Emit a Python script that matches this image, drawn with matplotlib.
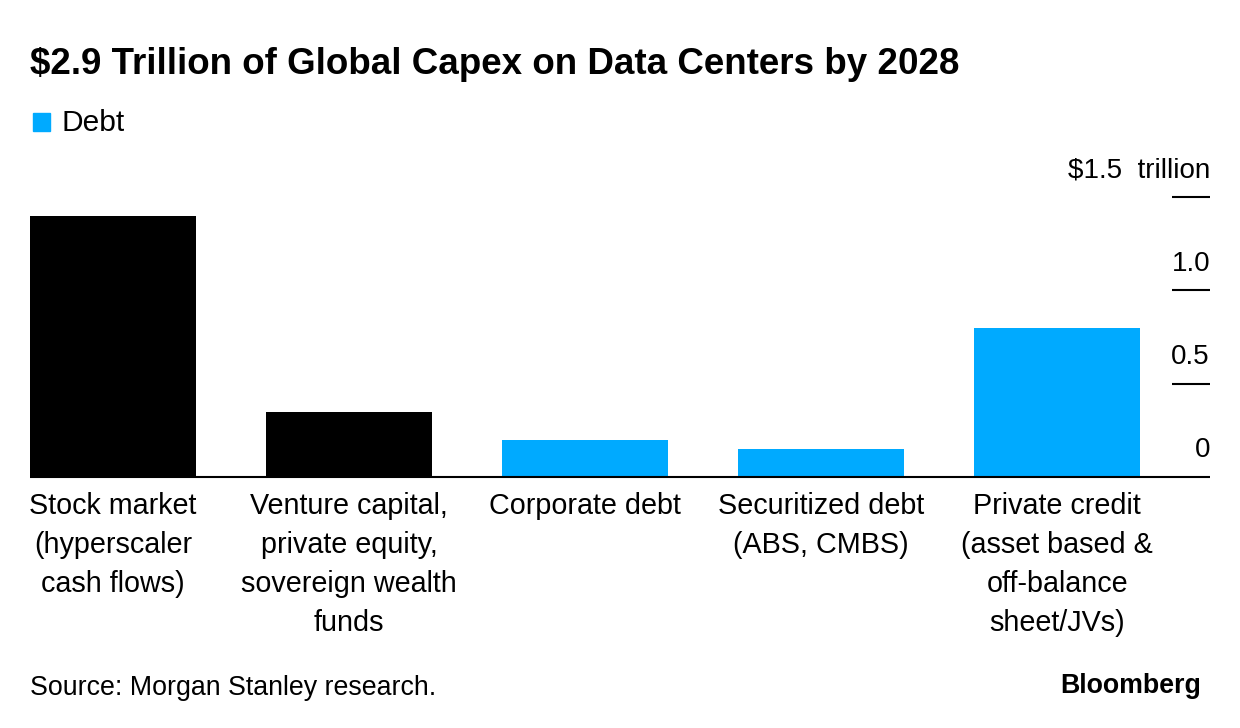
import matplotlib
matplotlib.use("Agg")
import matplotlib.pyplot as plt
from matplotlib.patches import Rectangle

plt.rcParams["font.family"] = ["Liberation Sans", "DejaVu Sans"]

# ── Data (trillion USD) ──────────────────────────────────────────────────────
categories = [
    "Stock market\n(hyperscaler\ncash flows)",
    "Venture capital,\nprivate equity,\nsovereign wealth\nfunds",
    "Corporate debt",
    "Securitized debt\n(ABS, CMBS)",
    "Private credit\n(asset based &\noff-balance\nsheet/JVs)",
]
values = [1.40, 0.35, 0.20, 0.15, 0.80]
is_debt = [False, False, True, True, True]
y_ticks = [0, 0.5, 1.0, 1.5]
y_tick_labels = ["0", "0.5", "1.0", "$1.5  trillion"]

BLUE = "#00AAFF"
BLACK = "#000000"

W, H = 1240, 728
fig = plt.figure(figsize=(W / 100, H / 100), dpi=100)


def fx(px):
    return px / W


def fy(px):
    return 1 - px / H


# axes: baseline at y=477px, 1.5 at y=197px, x from 30 to 1210px
ax = fig.add_axes([fx(30), fy(477), fx(1210) - fx(30), fy(197) - fy(477)])

colours = [BLUE if d else BLACK for d in is_debt]
x = range(len(values))
ax.bar(x, values, width=0.703, color=colours, linewidth=0, zorder=2)
ax.set_xlim(-0.3517, 4.648)
ax.set_ylim(0, 1.5)

for s in ax.spines.values():
    s.set_visible(False)
ax.set_xticks([])
ax.set_yticks([])

# baseline
ax.plot([0, 1], [0, 0], transform=ax.get_yaxis_transform(), color=BLACK,
        lw=1.5, clip_on=False, zorder=3, solid_capstyle="butt")

# right-hand tick marks and labels
for v, lab in zip(y_ticks, y_tick_labels):
    if v > 0:
        ax.plot([0.9678, 1.0], [v, v], transform=ax.get_yaxis_transform(),
                color=BLACK, lw=1.5, clip_on=False, solid_capstyle="butt")
    ax.text(1.0, v + 0.105, lab, transform=ax.get_yaxis_transform(),
            ha="right", va="baseline", fontsize=20, color=BLACK)

# category labels under bars
for i, lab in enumerate(categories):
    ax.text(i, -0.055, lab, transform=ax.get_xaxis_transform(),
            ha="center", va="top", fontsize=20.7, linespacing=1.5, color=BLACK)

# title
fig.text(fx(30), fy(74), "$2.9 Trillion of Global Capex on Data Centers by 2028",
         ha="left", va="baseline", fontsize=26.5, fontweight="bold", color=BLACK)

# legend
fig.patches.append(Rectangle((fx(33), fy(131)), fx(17), fy(113) - fy(131),
                             transform=fig.transFigure, color=BLUE))
fig.text(fx(62), fy(131), "Debt", ha="left", va="baseline", fontsize=21.5,
         color=BLACK)

# footer
fig.text(fx(30), fy(695), "Source: Morgan Stanley research.", ha="left",
         va="baseline", fontsize=19.3, color=BLACK)
fig.text(fx(1201), fy(693), "Bloomberg", ha="right", va="baseline",
         fontsize=19.3, fontweight="bold", color=BLACK)

fig.savefig("out.png", dpi=100)
